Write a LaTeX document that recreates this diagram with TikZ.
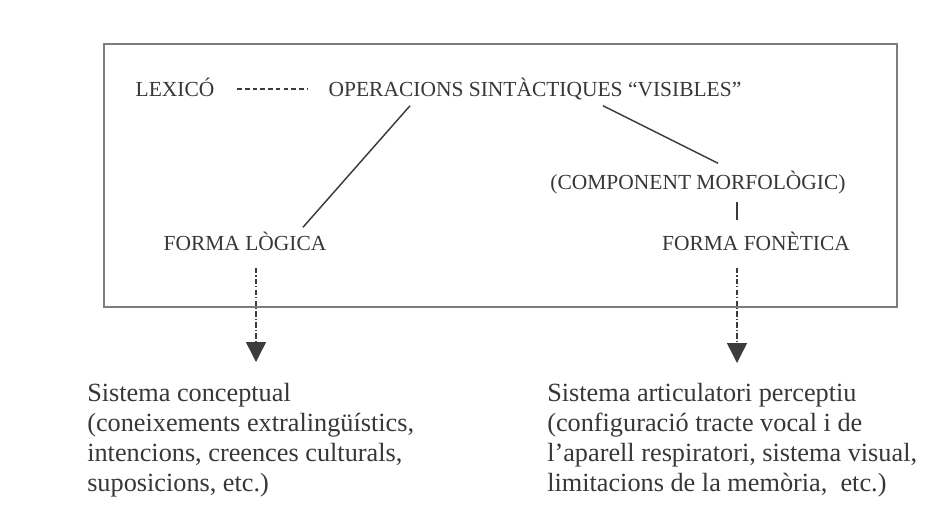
\documentclass[tikz,border=0pt]{standalone}
\usepackage{fontspec}
\setmainfont{Liberation Serif}
\usetikzlibrary{arrows.meta,calc}
\definecolor{inkgray}{RGB}{55,55,55}
\definecolor{linegray}{RGB}{60,60,60}
\definecolor{framegray}{RGB}{125,125,125}

\begin{document}
\begin{tikzpicture}[
  x=0.75pt, y=-0.75pt,
  every node/.style={inner sep=1pt},
  lbl/.style={font=\fontsize{16.1}{19}\selectfont, text=inkgray, text height=10.7pt, text depth=0pt},
  desc/.style={font=\fontsize{19.7}{22.5}\selectfont, text=inkgray, align=left, inner sep=0pt, anchor=north west},
  frame/.style={draw=framegray, line width=2.2pt},
  link/.style={draw=linegray, line width=1.1pt},
  dots/.style={draw=linegray, line width=1pt, dash pattern=on 3.4pt off 2.4pt},
  flow/.style={draw=linegray, line width=1.1pt, dash pattern=on 4pt off 1.6pt on 1pt off 1.6pt,
    -{Triangle[width=15pt, length=15pt]}}]

  \useasboundingbox (0,0) rectangle (947,508);

  % --- the frame round the grammar ---
  \draw[frame] (104,44) rectangle (897,307);

  % --- labels inside the frame ---
  \node[lbl] (lex)  at (175,89)  {LEXICÓ};
  \node[lbl] (ops)  at (535,89)  {OPERACIONS SINTÀCTIQUES “VISIBLES”};
  \node[lbl] (comp) at (698,182) {(COMPONENT MORFOLÒGIC)};
  \node[lbl] (fl)   at (245,243) {FORMA LÒGICA};
  \node[lbl] (ff)   at (756,243) {FORMA FONÈTICA};

  % --- the two systems below the frame ---
  \node[desc] (concept) at (87,383) {Sistema conceptual\\(coneixements extralingüístics,\\intencions, creences culturals,\\suposicions, etc.)};
  \node[desc] (artic) at (547,383) {Sistema articulatori perceptiu\\(configuració tracte vocal i de\\l’aparell respiratori, sistema visual,\\limitacions de la memòria,\ \ etc.)};

  \coordinate (fltip) at (256,362);
  \coordinate (fftip) at (737,363);

  % --- connectors ---
  \draw[dots, shorten <=16pt, shorten >=14pt] (lex.east) -- (ops.west);
  \draw[link] ($(ops.south)+(-125,8)$) -- ($(fl.north)+(58,-7)$);
  \draw[link] ($(ops.south)+(68,8)$) -- ($(comp.north)+(20,-10)$);
  \draw[link] ($(comp.south)+(39,11)$) -- ($(ff.north)+(-19,-14)$);

  % --- interfaces out of the frame ---
  \draw[flow] ($(fl.south)+(11,16)$) -- (fltip);
  \draw[flow] ($(ff.south)+(-19,16)$) -- (fftip);

\end{tikzpicture}
\end{document}
